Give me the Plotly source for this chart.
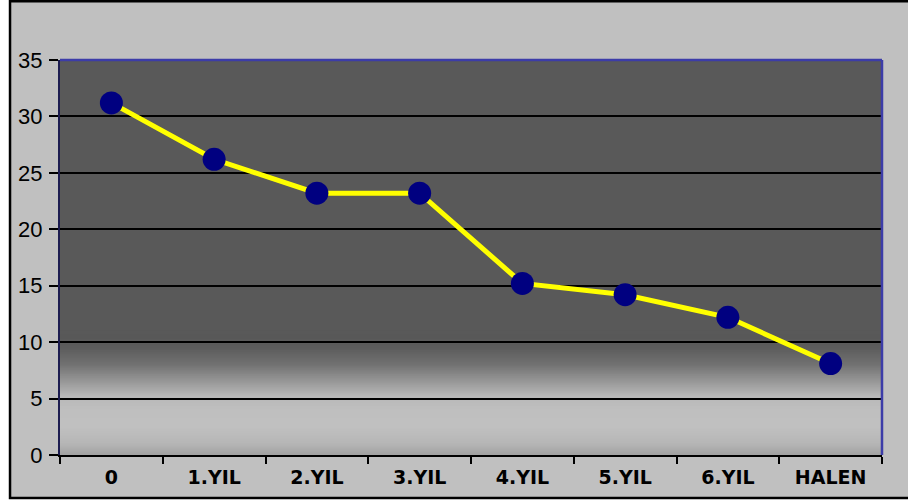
import plotly.graph_objects as go

categories = ["0", "1.YIL", "2.YIL", "3.YIL", "4.YIL", "5.YIL", "6.YIL", "HALEN"]
values = [31.2, 26.2, 23.2, 23.2, 15.2, 14.2, 12.2, 8.1]
y_ticks = [0, 5, 10, 15, 20, 25, 30, 35]

# background gradient stops (value, grey level)
grad_stops = [(0, 0xa2), (1.0, 0xb6), (2.5, 0xc0), (4.0, 0xbf), (5.2, 0xb8),
              (6.5, 0x98), (8.0, 0x72), (9.5, 0x5c), (10.5, 0x59), (35, 0x59)]


def grey_at(v):
    for (a, ca), (b, cb) in zip(grad_stops[:-1], grad_stops[1:]):
        if a <= v <= b:
            t = (v - a) / (b - a) if b > a else 0
            g = int(round(ca + (cb - ca) * t))
            return f"rgb({g},{g},{g})"
    g = grad_stops[-1][1]
    return f"rgb({g},{g},{g})"


shapes = []
# outer chart frame
shapes.append(dict(type="rect", xref="paper", yref="paper", x0=-0.0608, x1=1.06,
                   y0=-0.109, y1=1.149, fillcolor="#c0c0c0",
                   line=dict(color="black", width=2.5), layer="below"))
# gradient strips (overlapping to avoid seams)
step = 0.1
n = int(11 / step)
for i in range(n):
    v = i * step
    shapes.append(dict(type="rect", xref="paper", yref="y", x0=0, x1=1, y0=v, y1=v + 3 * step,
                       fillcolor=grey_at(v + step / 2), line=dict(width=0), layer="below"))
shapes.append(dict(type="rect", xref="paper", yref="y", x0=0, x1=1, y0=11, y1=35,
                   fillcolor="#595959", line=dict(width=0), layer="below"))
# top and right borders (blue)
shapes.append(dict(type="line", xref="paper", yref="paper", x0=0, x1=1, y0=1, y1=1,
                   line=dict(color="#3c3ca8", width=2.5)))
shapes.append(dict(type="line", xref="paper", yref="paper", x0=1, x1=1, y0=0, y1=1,
                   line=dict(color="#3c3ca8", width=2.5)))

fig = go.Figure()
fig.add_trace(go.Scatter(
    x=categories, y=values, mode="lines+markers",
    line=dict(color="#ffff00", width=5),
    marker=dict(color="#000080", size=23, line=dict(color="#000080", width=0)),
    showlegend=False, hoverinfo="skip",
))

fig.update_layout(
    width=908, height=501,
    margin=dict(l=60, r=26, t=60, b=46),
    paper_bgcolor="white",
    plot_bgcolor="#595959",
    shapes=shapes,
    xaxis=dict(
        type="category", tickson="boundaries", ticks="outside", ticklen=7, tickwidth=2,
        tickcolor="black", showgrid=False, showline=True, linecolor="black", linewidth=2,
        tickfont=dict(family="DejaVu Sans", size=19, color="black", weight="bold"),
        range=[-0.5, 7.5], zeroline=False, ticklabelstandoff=4,
    ),
    yaxis=dict(
        range=[0, 35], tickvals=y_ticks, ticks="outside", ticklen=9, tickwidth=2,
        tickcolor="black", showgrid=True, gridcolor="black", gridwidth=2,
        showline=True, linecolor="#1c1c50", linewidth=2, zeroline=False,
        tickfont=dict(family="Liberation Sans", size=22, color="black"),
        ticklabelstandoff=2,
    ),
)

fig.write_html("out.html", config={"displayModeBar": False},
               post_script="document.body.style.margin='0';document.body.style.overflow='hidden';")
